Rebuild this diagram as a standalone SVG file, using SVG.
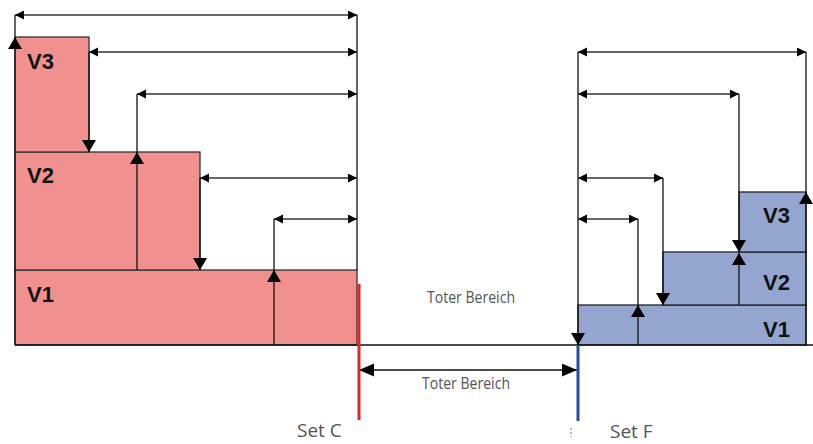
<svg xmlns="http://www.w3.org/2000/svg" width="813" height="444" viewBox="0 0 813 444">
<style>
.bl{fill:#F1918F;stroke:#333;stroke-width:1.3}
.br{fill:#94A6CF;stroke:#222;stroke-width:1.3}
.lab{font-family:"Liberation Sans",Arial,sans-serif;font-weight:bold;font-size:22px;fill:#111}
.ln{stroke:#111;stroke-width:1.3;fill:none}
.dim{stroke:#333;stroke-width:1.3;fill:none;marker-start:url(#ah);marker-end:url(#ah)}
.up{marker-end:url(#av)}
.gt{font-family:"Open Sans","DejaVu Sans",sans-serif;fill:#555}
</style>
<defs>
<marker id="ah" markerUnits="userSpaceOnUse" markerWidth="10" markerHeight="10" refX="9" refY="4.5" orient="auto-start-reverse"><path d="M0,0 L9,4.5 L0,9 z" fill="#000"/></marker>
<marker id="av" markerUnits="userSpaceOnUse" markerWidth="14" markerHeight="16" refX="12" refY="7" orient="auto"><path d="M0,0 L12,7 L0,14 z" fill="#000"/></marker>
<marker id="ab" markerUnits="userSpaceOnUse" markerWidth="16" markerHeight="14" refX="15" refY="6.5" orient="auto-start-reverse"><path d="M0,0 L15,6.5 L0,13 z" fill="#000"/></marker>
</defs>
<rect width="813" height="444" fill="#fff"/>
<g id="left-V1"><rect class="bl" x="15" y="270" width="342" height="75"/><text class="lab" x="27" y="302">V1</text></g>
<g id="left-V2"><rect class="bl" x="15" y="152" width="185" height="118"/><text class="lab" x="27" y="183">V2</text></g>
<g id="left-V3"><rect class="bl" x="15" y="37" width="74" height="115"/><text class="lab" x="27" y="69">V3</text></g>
<g id="right-V1"><rect class="br" x="578" y="305" width="228" height="40"/><text class="lab" x="763" y="337">V1</text></g>
<g id="right-V2"><rect class="br" x="663" y="252" width="143" height="53"/><text class="lab" x="763" y="290">V2</text></g>
<g id="right-V3"><rect class="br" x="739" y="192" width="67" height="60"/><text class="lab" x="763" y="223">V3</text></g>
<g id="connectors">
<line class="ln" x1="15" y1="345" x2="813" y2="345"/>
<line class="ln" x1="15" y1="37" x2="15" y2="15"/>
<line class="ln up" x1="15" y1="345" x2="15" y2="37"/>
<line class="dim" x1="15" y1="15" x2="357" y2="15"/>
<line class="ln" x1="357" y1="15" x2="357" y2="270"/>
<line class="dim" x1="89" y1="52" x2="357" y2="52"/>
<line class="ln up" x1="89" y1="52" x2="89" y2="152"/>
<line class="dim" x1="137" y1="94" x2="357" y2="94"/>
<line class="ln" x1="137" y1="152" x2="137" y2="94"/>
<line class="ln up" x1="137" y1="270" x2="137" y2="152"/>
<line class="dim" x1="200" y1="178" x2="357" y2="178"/>
<line class="ln up" x1="200" y1="178" x2="200" y2="270"/>
<line class="dim" x1="274" y1="219" x2="357" y2="219"/>
<line class="ln" x1="274" y1="270" x2="274" y2="219"/>
<line class="ln up" x1="274" y1="345" x2="274" y2="270"/>
<line class="dim" x1="578" y1="52" x2="806" y2="52"/>
<line class="ln up" x1="578" y1="52" x2="578" y2="345"/>
<line class="ln" x1="806" y1="52" x2="806" y2="192"/>
<line class="ln up" x1="806" y1="345" x2="806" y2="192"/>
<line class="dim" x1="578" y1="94" x2="739" y2="94"/>
<line class="ln up" x1="739" y1="94" x2="739" y2="252"/>
<line class="ln up" x1="739" y1="305" x2="739" y2="253"/>
<line class="dim" x1="578" y1="178" x2="663" y2="178"/>
<line class="ln up" x1="663" y1="178" x2="663" y2="305"/>
<line class="dim" x1="578" y1="219" x2="638" y2="219"/>
<line class="ln" x1="638" y1="305" x2="638" y2="219"/>
<line class="ln up" x1="638" y1="345" x2="638" y2="305"/>
<line x1="359" y1="370" x2="577" y2="370" stroke="#111" stroke-width="1.5" marker-start="url(#ab)" marker-end="url(#ab)"/>
<line x1="359" y1="284" x2="359" y2="420" stroke="#E3262A" stroke-width="3"/>
<line x1="578" y1="345" x2="578" y2="421" stroke="#2B4C9B" stroke-width="3"/>
<line x1="571" y1="428" x2="571" y2="437" stroke="#777" stroke-width="1" stroke-dasharray="2,2"/>
</g>
<g id="labels">
<text class="gt" x="427" y="303" font-size="16.5" textLength="88" lengthAdjust="spacingAndGlyphs">Toter Bereich</text>
<text class="gt" x="422" y="389" font-size="16.5" textLength="88" lengthAdjust="spacingAndGlyphs">Toter Bereich</text>
<text class="gt" x="297" y="437" font-size="19">Set C</text>
<text class="gt" x="610" y="438" font-size="19">Set F</text>
</g>
</svg>
